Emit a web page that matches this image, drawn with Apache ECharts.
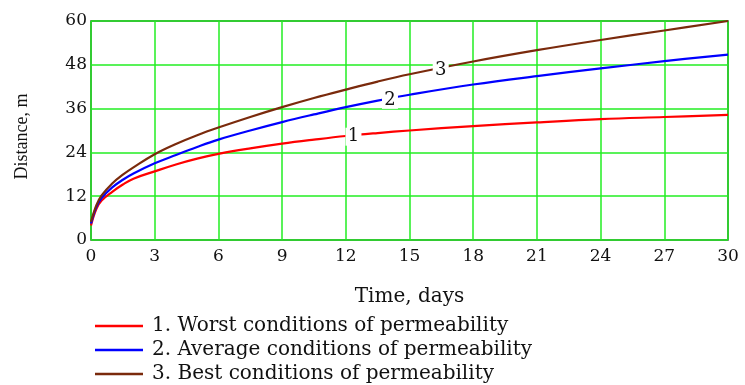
<!DOCTYPE html>
<html><head><meta charset="utf-8">
<script src="https://cdn.jsdelivr.net/npm/echarts@6/dist/echarts.min.js"></script>
<style>html,body{margin:0;padding:0;background:#fff}#c{width:745px;height:385px}</style>
</head><body><div id="c"></div>
<script>
const time = [0, 0.25, 0.5, 1, 1.5, 2, 3, 4, 5, 6, 7.5, 9, 10.5, 12, 13.5, 15, 18, 21, 24, 27, 30];
const worst = [4, 8.5, 10.8, 13.2, 15.2, 16.8, 18.8, 20.7, 22.3, 23.6, 25.1, 26.4, 27.5, 28.5, 29.3, 30.0, 31.2, 32.2, 33.1, 33.7, 34.3];
const average = [4.5, 9, 11.5, 14.4, 16.5, 18.2, 21.0, 23.3, 25.5, 27.5, 30.0, 32.3, 34.4, 36.4, 38.2, 39.8, 42.6, 44.9, 47.0, 49.0, 50.8];
const best = [5, 9.5, 12.2, 15.5, 17.9, 19.9, 23.5, 26.3, 28.7, 30.8, 33.7, 36.4, 38.9, 41.2, 43.4, 45.4, 48.9, 52.0, 54.8, 57.4, 60];
const seriesNames = ['1. Worst conditions of permeability', '2. Average conditions of permeability', '3. Best conditions of permeability'];
const curveLabels = ['1', '2', '3'];
const labelPos = [[12.36, 28.3], [14.08, 38.4], [16.47, 46.6]];
const xTicks = [0, 3, 6, 9, 12, 15, 18, 21, 24, 27, 30];
const yTicks = [0, 12, 24, 36, 48, 60];

const colors = ['#ff0000', '#0000ff', '#7a2a0c'];
const font = 'Liberation Serif';
const wide = 'DejaVu Serif';
const chart = echarts.init(document.getElementById('c'));
const allData = [worst, average, best];
chart.setOption({
  animation: false,
  grid: {left: 91, right: 17, top: 21, bottom: 145, show: true, borderColor: '#333', borderWidth: 1.5},
  legend: {
    orient: 'vertical', left: 95, top: 316, itemWidth: 48, itemHeight: 16, itemGap: 4, padding: 0,
    textStyle: {fontFamily: wide, fontSize: 20, color: '#111', padding: [0, 0, 0, 4]},
    data: seriesNames.map((n, i) => ({name: n, icon: 'path://M0,0L48,0L48,2.4L0,2.4Z', itemStyle: {color: colors[i]}}))
  },
  xAxis: {
    type: 'value', min: xTicks[0], max: xTicks[xTicks.length - 1], interval: 3,
    name: 'Time, days', nameLocation: 'middle', nameGap: 47,
    nameTextStyle: {fontFamily: wide, fontSize: 20, color: '#111'},
    axisLine: {show: false}, axisTick: {show: false},
    axisLabel: {fontFamily: wide, fontSize: 17, color: '#111', margin: 8},
    splitLine: {show: true, lineStyle: {color: '#22ee22', width: 1.5}}
  },
  yAxis: {
    type: 'value', min: yTicks[0], max: yTicks[yTicks.length - 1], interval: 12,
    name: 'Distance, m', nameLocation: 'middle', nameGap: 60, nameRotate: 90,
    nameTextStyle: {fontFamily: font, fontSize: 18, color: '#111', padding: [0, 12, 0, 0]},
    axisLine: {show: false}, axisTick: {show: false},
    axisLabel: {fontFamily: wide, fontSize: 17, color: '#111', margin: 4},
    splitLine: {show: true, lineStyle: {color: '#22ee22', width: 1.5}}
  },
  series: allData.map((d, i) => ({
    name: seriesNames[i], type: 'line', smooth: 0.4, showSymbol: false, symbol: 'none',
    clip: false,
    data: time.map((t, k) => [t, d[k]]),
    lineStyle: {color: colors[i], width: 2.2},
    itemStyle: {color: colors[i]},
    markPoint: {
      symbol: 'rect', symbolSize: [16, 18],
      itemStyle: {color: '#fff'},
      label: {show: true, formatter: curveLabels[i], fontFamily: wide, fontSize: 18, color: '#111'},
      data: [{coord: labelPos[i]}]
    }
  }))
});
</script></body></html>
